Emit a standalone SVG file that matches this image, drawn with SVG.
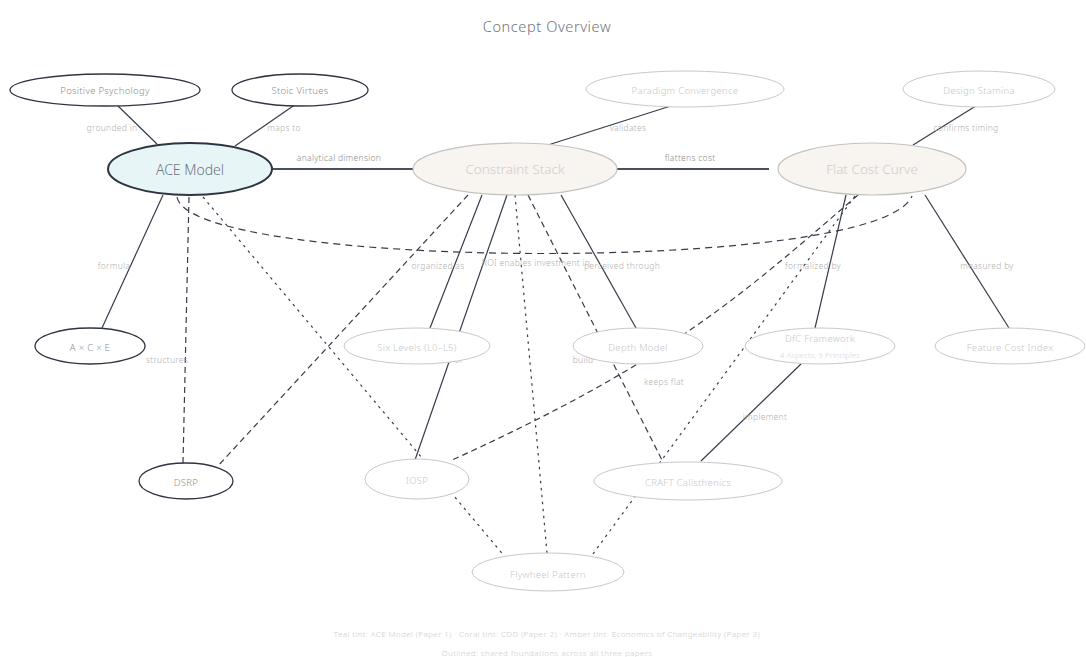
<svg xmlns="http://www.w3.org/2000/svg" width="1086" height="657" viewBox="0 0 1086 657">
  <style>
    text { font-family: "Noto Sans", "Lato", "Liberation Sans", sans-serif; font-weight: 300; text-anchor: middle; dominant-baseline: central; }
    .title { font-size: 14.5px; fill: #70727c; letter-spacing: 0.6px; }
    .bg { fill: #ffffff; }
    .n-core { stroke: #2e3442; stroke-width: 1.3; fill: #ffffff; }
    .n-ace { stroke: #2e3442; stroke-width: 2; fill: #e8f5f7; }
    .n-warm { stroke: #c4c2c0; stroke-width: 1.2; fill: #f8f4f0; }
    .n-light { stroke: #c8c8c8; stroke-width: 1; fill: #ffffff; }
    .t-core { font-size: 9.5px; fill: #8a8c94; letter-spacing: 0.3px; }
    .t-ace { font-size: 14px; fill: #70747e; }
    .t-warm { font-size: 13.5px; fill: #d2cdc8; }
    .t-light { font-size: 9.5px; fill: #c8c8c8; letter-spacing: 0.3px; }
    .t-sub { font-size: 7.5px; fill: #d4d4d4; letter-spacing: 0.2px; }
    .e { fill: none; stroke: #363c4a; stroke-width: 1.2; }
    .e-main { fill: none; stroke: #4a505c; stroke-width: 1.8; }
    .dash { stroke-dasharray: 6 4; }
    .dash-long { stroke-dasharray: 7 5; }
    .dot { stroke-dasharray: 2.5 4.5; }
    .lbl { font-size: 8.5px; fill: #b0b0b0; letter-spacing: 0.3px; }
    .lbl-d { font-size: 8.5px; fill: #8c8c8c; letter-spacing: 0.3px; }
    .foot { font-size: 8px; fill: #cccccc; letter-spacing: 0.4px; }
  </style>

  <rect class="bg" x="0" y="0" width="1086" height="657"/>

  <text class="title" x="547" y="26">Concept Overview</text>

  <!-- connectors -->
  <g id="connectors">
    <!-- solid relations -->
    <line class="e" x1="117" y1="105" x2="157" y2="144"/>
    <line class="e" x1="296" y1="104" x2="235" y2="146"/>
    <line class="e-main" x1="262" y1="169" x2="418" y2="169"/>
    <line class="e" x1="677" y1="104" x2="548" y2="145"/>
    <line class="e-main" x1="612" y1="169" x2="769" y2="169"/>
    <line class="e" x1="979" y1="104" x2="913" y2="145"/>
    <line class="e" x1="163" y1="195" x2="102" y2="328"/>
    <line class="e" x1="482" y1="195" x2="430" y2="328"/>
    <line class="e" x1="507" y1="195" x2="415" y2="460"/>
    <line class="e" x1="561" y1="195" x2="636" y2="328"/>
    <line class="e" x1="846" y1="195" x2="815" y2="328"/>
    <line class="e" x1="925" y1="195" x2="1009" y2="328"/>
    <line class="e" x1="801" y1="364" x2="701" y2="461"/>

    <!-- dashed relations -->
    <line class="e dash" x1="189" y1="197" x2="183" y2="463"/>
    <line class="e dash" x1="468" y1="195" x2="217" y2="467"/>
    <path class="e dash-long" d="M177,197 C190,270 880,275 912,196"/>
    <line class="e dash" x1="528" y1="195" x2="663" y2="462"/>
    <path class="e dash" d="M858,195 C742,295 670,361 450,461"/>

    <!-- dotted relations -->
    <line class="e dot" x1="203" y1="197" x2="506" y2="558"/>
    <line class="e dot" x1="515" y1="195" x2="547" y2="553"/>
    <line class="e dot" x1="855" y1="196" x2="590" y2="558"/>

    <!-- edge labels -->
    <text class="lbl" x="112" y="127">grounded in</text>
    <text class="lbl" x="284" y="127">maps to</text>
    <text class="lbl-d" x="339" y="157">analytical dimension</text>
    <text class="lbl" x="628" y="127">validates</text>
    <text class="lbl-d" x="690" y="157">flattens cost</text>
    <text class="lbl" x="966" y="127">confirms timing</text>
    <text class="lbl" x="114" y="265">formula</text>
    <text class="lbl" x="438" y="265">organized as</text>
    <text class="lbl" x="536" y="262">ROI enables investment in</text>
    <text class="lbl" x="622" y="265">perceived through</text>
    <text class="lbl" x="813" y="265">formalized by</text>
    <text class="lbl" x="987" y="265">measured by</text>
    <text class="lbl" x="167" y="359">structures</text>
    <text class="lbl" x="443" y="359">Level 2 of</text>
    <text class="lbl" x="583" y="359">build</text>
    <text class="lbl" x="664" y="381">keeps flat</text>
    <text class="lbl" x="765" y="416">implement</text>
  </g>

  <!-- nodes -->
  <g id="positive-psychology">
    <ellipse class="n-core" cx="105" cy="90" rx="95" ry="16"/>
    <text class="t-core" x="105" y="90">Positive Psychology</text>
  </g>
  <g id="stoic-virtues">
    <ellipse class="n-core" cx="300" cy="90" rx="68" ry="16"/>
    <text class="t-core" x="300" y="90">Stoic Virtues</text>
  </g>
  <g id="paradigm-convergence">
    <ellipse class="n-light" cx="685" cy="89" rx="99" ry="18"/>
    <text class="t-light" x="685" y="90">Paradigm Convergence</text>
  </g>
  <g id="design-stamina">
    <ellipse class="n-light" cx="979" cy="89" rx="76" ry="18"/>
    <text class="t-light" x="979" y="90">Design Stamina</text>
  </g>
  <g id="ace-model">
    <ellipse class="n-ace" cx="190" cy="169" rx="82" ry="26"/>
    <text class="t-ace" x="190" y="169">ACE Model</text>
  </g>
  <g id="constraint-stack">
    <ellipse class="n-warm" cx="515" cy="169" rx="102" ry="26"/>
    <text class="t-warm" x="515" y="169">Constraint Stack</text>
  </g>
  <g id="flat-cost-curve">
    <ellipse class="n-warm" cx="872" cy="169" rx="94" ry="26"/>
    <text class="t-warm" x="872" y="169">Flat Cost Curve</text>
  </g>
  <g id="ace-formula">
    <ellipse class="n-core" cx="90" cy="346" rx="55" ry="18"/>
    <text class="t-core" x="90" y="347">A × C × E</text>
  </g>
  <g id="six-levels">
    <ellipse class="n-light" cx="417" cy="346" rx="73" ry="18"/>
    <text class="t-light" x="417" y="347">Six Levels (L0–L5)</text>
  </g>
  <g id="depth-model">
    <ellipse class="n-light" cx="638" cy="346" rx="65" ry="18"/>
    <text class="t-light" x="638" y="347">Depth Model</text>
  </g>
  <g id="dfc-framework">
    <ellipse class="n-light" cx="820" cy="346" rx="75" ry="18"/>
    <text class="t-light" x="820" y="338">DfC Framework</text>
    <text class="t-sub" x="820" y="355">4 Aspects, 9 Principles</text>
  </g>
  <g id="feature-cost-index">
    <ellipse class="n-light" cx="1010" cy="346" rx="75" ry="18"/>
    <text class="t-light" x="1010" y="347">Feature Cost Index</text>
  </g>
  <g id="dsrp">
    <ellipse class="n-core" cx="186" cy="481" rx="47" ry="18"/>
    <text class="t-core" x="186" y="482">DSRP</text>
  </g>
  <g id="iosp">
    <ellipse class="n-light" cx="417" cy="479" rx="52" ry="20"/>
    <text class="t-light" x="417" y="480">IOSP</text>
  </g>
  <g id="craft-calisthenics">
    <ellipse class="n-light" cx="688" cy="481" rx="94" ry="19"/>
    <text class="t-light" x="688" y="482">CRAFT Calisthenics</text>
  </g>
  <g id="flywheel-pattern">
    <ellipse class="n-light" cx="548" cy="572" rx="76" ry="19"/>
    <text class="t-light" x="548" y="574">Flywheel Pattern</text>
  </g>

  <!-- legend -->
  <text class="foot" x="547" y="633">Teal tint: ACE Model (Paper 1) · Coral tint: CDD (Paper 2) · Amber tint: Economics of Changeability (Paper 3)</text>
  <text class="foot" x="547" y="652">Outlined: shared foundations across all three papers</text>
</svg>
